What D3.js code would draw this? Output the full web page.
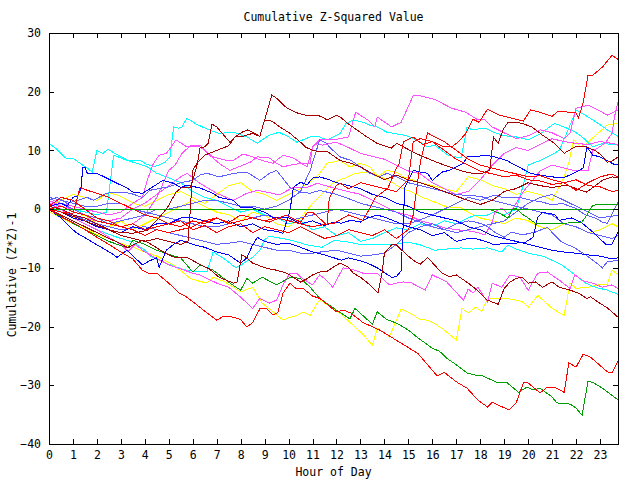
<!DOCTYPE html>
<html><head><meta charset="utf-8">
<script src="https://cdn.jsdelivr.net/npm/d3@7"></script>
<style>
body{margin:0;background:#fff}
svg text{font-family:"DejaVu Sans Mono","Liberation Mono",monospace;font-size:11.5px;fill:#000}
</style>
</head><body>
<svg id="chart" width="640" height="480"></svg>
<script>
const title = "Cumulative Z-Squared Value";
const xLabel = "Hour of Day";
const yLabel = "Cumulative (Z*Z)-1";
const hourTicks = d3.range(0, 24);
const valueTicks = [-40, -30, -20, -10, 0, 10, 20, 30];
const hourDomain = [0, 23.75];
const valueDomain = [-40, 30];

// each series: [hour, cumulative value]
const redTop = [[0,0],[0.5,0.5],[1,-0.5],[1.5,-1],[2,-2],[2.5,-2.5],[3,-3],[3.5,-2.5],[4,-3.5],[4.5,-3],[5,-2.5],[5.5,-3],[6,-2],[6.5,-2.5],[7,-1.5],[7.5,-2.3],[8,-1],[8.5,-1.5],[9,-2],[9.5,-1.5],[10,-2],[10.5,-2.5],[11,-3],[11.5,-2.6],[11.9,-2.4],[12.5,-1],[13.1,-1.9],[13.4,0.2],[13.6,1.9],[14.15,3.6],[14.5,7],[14.6,7.5],[14.8,11.5],[15.2,12.3],[15.6,11],[16,11.5],[16.5,10.6],[16.8,10.6],[17.1,11.5],[17.4,12.9],[17.7,15.3],[17.95,14.8],[18.3,17],[18.8,16],[19.3,15.5],[19.8,15],[20.1,16.9],[20.5,16.5],[21,15.8],[21.25,16.7],[22,16.4],[22.1,15.5],[22.3,18.2],[22.5,22.8],[22.7,22.8],[23.1,24.2],[23.5,26.2],[23.75,25.5]];
const redBottom = [[0,0],[0.5,-1.2],[1,-2.3],[1.5,-3.5],[2,-4.8],[2.5,-6],[3,-7.3],[3.5,-8.5],[3.9,-10.4],[4.2,-11],[4.5,-10.9],[5,-12.6],[5.4,-14.2],[5.76,-15],[6.2,-16.4],[6.6,-17.7],[7,-18.9],[7.3,-18.2],[7.7,-18.4],[8,-18.8],[8.26,-20.1],[8.5,-19.3],[8.8,-17],[9.1,-17],[9.35,-18],[9.55,-17.6],[9.77,-14.3],[10.06,-12.6],[10.3,-13.5],[10.6,-13.5],[11,-14.8],[11.3,-15.2],[12,-17.5],[12.3,-17.2],[12.6,-17.7],[13.1,-19.3],[13.8,-20.6],[14.65,-22.7],[15.4,-24.6],[16.2,-28.4],[16.5,-27.8],[17,-29.4],[17.45,-30.5],[17.9,-32.5],[18.3,-33.7],[18.5,-32.9],[19.2,-34.2],[19.5,-33],[19.8,-29.6],[20,-29.6],[20.5,-31.3],[20.8,-30.3],[21.1,-30.3],[21.5,-31.2],[21.7,-26.2],[22,-26.9],[22.3,-24.7],[22.6,-25.2],[23.3,-27.7],[23.5,-27.9],[23.75,-25.9]];
const redMidA = [[0,0.5],[0.5,2],[1,1.5],[1.5,0],[2,-1.5],[2.5,-2],[3,-3],[3.5,-3.5],[4,-4.5],[4.5,-3.5],[5,-4],[5.5,-3.5],[6,-3],[6.5,-2],[7,-1.5],[7.5,-2.5],[8,-2],[8.5,-1.5],[9,-2],[9.2,-2.2],[9.9,-1],[10.5,-2.2],[10.8,-0.5],[11,-0.5],[11.6,-2.7],[11.7,1.9],[12,4.1],[12.15,4.4],[12.5,3.5],[13,4.5],[13.5,4],[14,3.5],[14.5,3],[15,5],[15.2,11.5],[15.5,12],[16,11.5],[16.5,10],[17,8.5],[17.5,7.5],[18,6.5],[18.5,6],[19,5.5],[19.5,5.8],[20,5],[20.5,4.8],[21,4.2],[21.5,4.5],[22,3.2],[22.5,4.5],[23,5.5],[23.5,6],[23.75,5.5]];
const redMidB = [[0,0],[0.5,-0.5],[1,-0.7],[1.3,3.7],[1.6,3.2],[2,2.7],[2.5,2],[3,1],[3.5,0],[4,-1],[4.5,-1.5],[5,-2.5],[5.5,-2],[6,-3.5],[6.5,-2.8],[7,-4],[7.5,-3],[8,-2.5],[8.5,-4],[9,-3],[9.5,-3.5],[10,-4],[10.5,-3],[11,-4],[11.5,-5],[12,-4.5],[12.5,-3.5],[13,-4],[13.5,-4.5],[14,-3.5],[14.5,-5],[15,-3.5],[15.2,-1],[15.5,8],[15.8,13],[16,12.5],[16.5,11.5],[17,10],[17.5,8.5],[18,7.5],[18.5,7],[19,6.5],[19.5,6],[20,5.5],[20.5,5.7],[21,5],[21.5,4.5],[22,5],[22.5,4],[23,3.8],[23.5,3],[23.75,3.2]];
const darkRedA = [[0,0],[0.5,-0.5],[1,-1.2],[1.5,-2],[2,-2.8],[2.5,-3.5],[3,-4],[3.5,-4.1],[4.1,-3.6],[4.5,-1.9],[4.75,-0.7],[4.95,0.3],[5.3,2.9],[5.55,3.7],[5.9,3.7],[6,4.9],[6.2,7.8],[6.3,10.4],[6.5,10.6],[6.64,11.2],[6.8,14.5],[7,14],[7.55,11.4],[7.76,12.3],[8.05,13.1],[8.3,13.5],[8.6,12.9],[8.8,12.4],[9,15.2],[9.3,19.4],[9.5,18.9],[9.93,17.2],[10.35,16.4],[10.7,16],[11.2,16],[11.4,15.7],[11.6,15.2],[11.85,15.7],[12,16],[12.15,15.7],[12.5,14.5],[13.2,12.5],[13.7,11.2],[14.3,10.4],[14.5,11.2],[14.8,10.6],[15.3,9.5],[16,8.3],[16.5,7.5],[17,6.8],[17.5,6.2],[18,6],[18.4,6.6],[18.55,12.3],[18.75,11.2],[18.95,13.5],[19.16,14.8],[19.45,14.8],[19.75,14.6],[20.15,14],[20.6,12.6],[21.1,11.2],[21.5,9.5],[21.95,10.6],[22.4,10.6],[22.8,10],[23.05,9.2],[23.3,8],[23.5,8.2],[23.75,8.9]];
const darkRedB = [[0,0.5],[0.5,0],[1,-1],[1.5,-1.5],[2,-2.5],[2.5,-3.5],[3,-4.5],[3.5,-5],[4,-5.5],[4.5,-5],[5,-5.5],[5.5,-6],[5.8,-5.5],[5.9,0],[6,6.6],[6.2,8],[6.5,9.2],[7,10],[7.5,10.8],[7.76,12.3],[8,12.3],[8.5,12.9],[8.8,12.4],[9,15.2],[9.3,15],[9.64,14],[10.06,12.9],[10.5,11.4],[10.7,10.6],[11,10],[11.3,9.8],[11.6,9.9],[12,8.7],[12.15,8.3],[12.6,7.8],[13,7.2],[13.5,6],[14,5],[14.5,5.8],[15,5],[15.5,4.5],[16,3.8],[16.5,3],[17,2.2],[17.5,1.5],[18,0.8],[18.5,1.5],[19,3],[19.5,3.5],[20,4.5],[20.5,4],[21,3.7],[21.6,4.1],[22.2,3.2],[22.45,2.9],[22.7,3.7],[23.1,4.9],[23.5,5.5],[23.75,5.3]];
const darkRedLow = [[0,0],[0.5,-1],[1,-2],[1.5,-3],[2,-4],[2.5,-5],[2.8,-5.5],[3.3,-6.6],[3.6,-5.9],[3.9,-5.3],[4.1,-5.6],[4.5,-6.6],[4.9,-7.6],[5.3,-8.3],[5.8,-8.3],[6.2,-9.2],[6.7,-10.2],[7.1,-11.6],[7.7,-12.6],[7.85,-12.4],[8.05,-7.8],[8.26,-8.3],[8.5,-9.2],[9.1,-10.1],[9.5,-10.4],[9.93,-10.9],[10.5,-12.4],[10.8,-11.8],[11,-11.2],[11.3,-10.7],[11.6,-10.6],[11.9,-9.8],[12.15,-9.2],[12.5,-9.9],[12.7,-10.9],[13,-11.6],[13.4,-12.9],[13.73,-14.3],[13.9,-10.9],[14,-7.5],[14.3,-6.1],[14.5,-6.1],[14.86,-7.5],[15.2,-8.7],[15.5,-9.4],[15.8,-8.2],[16.4,-10.9],[16.7,-11.5],[17,-11.2],[17.5,-12.6],[17.9,-13.9],[18.3,-15.5],[18.75,-16.2],[19,-13.5],[19.25,-12.4],[19.5,-11.8],[19.75,-11.6],[20,-12.6],[20.3,-12.4],[20.6,-13.3],[21,-12.4],[21.3,-13.3],[21.75,-13.8],[22.1,-14.3],[22.45,-15.2],[22.6,-14.9],[22.9,-15.8],[23.3,-16.8],[23.75,-18.4]];
const greenLow = [[0,0],[0.5,-1.3],[1,-2.4],[1.5,-3.5],[2,-4.5],[2.5,-5.5],[3,-6.2],[3.3,-6.6],[3.5,-5.3],[4,-6],[4.5,-7],[5,-7.7],[5.5,-8.3],[6,-10.7],[6.3,-9.5],[6.85,-10.4],[7.55,-12.6],[8,-13.8],[8.26,-11.8],[8.5,-12.6],[8.9,-11.6],[9.5,-12.9],[10.06,-11.6],[10.5,-11.8],[10.9,-13.3],[11.3,-15.2],[12,-17.2],[12.56,-18.7],[12.77,-16.9],[13.5,-19.6],[13.7,-17.5],[14.1,-18.8],[14.5,-19.4],[15,-20.6],[15.36,-21.8],[16,-23.7],[16.3,-24.2],[16.6,-25.4],[17,-26.5],[17.45,-27.9],[17.7,-28.2],[18.1,-28.4],[18.7,-29.5],[19.1,-29.5],[19.6,-31.2],[19.95,-30.3],[20.2,-30.8],[20.5,-30.5],[21,-32],[21.2,-33],[21.75,-33.2],[22,-33.9],[22.25,-35.1],[22.5,-29.3],[22.7,-29.5],[23.1,-30.5],[23.75,-32.5]];
const greenFlat = [[0,0],[18.4,0],[18.5,-0.2],[18.8,-0.7],[19.16,-1.5],[19.35,0],[19.5,0.2],[19.7,-0.7],[20,-1.5],[20.3,-2.4],[20.8,-2.4],[21.5,-2.4],[22.25,-2.2],[22.45,-1],[22.66,0.5],[22.9,0.85],[23.75,0.85]];
const blueJump = [[0,0],[0.5,-1.5],[1.1,-3.9],[1.8,-5.6],[2.6,-7.5],[2.84,-8.2],[3.26,-7],[3.9,-9.5],[4.2,-8.8],[4.5,-8.3],[4.6,-9.9],[4.9,-7],[5.2,-6],[5.5,-5.3],[6,-6],[6.5,-6.5],[7,-7.3],[7.5,-7.8],[8,-9.2],[8.26,-8.3],[8.5,-6.1],[8.7,-4.8],[9,-5.5],[9.5,-6],[10,-5.8],[10.5,-6.5],[11,-7.3],[11.5,-7.8],[11.9,-8.3],[12.2,-8.7],[12.5,-8.3],[12.9,-8.7],[13.3,-9.2],[13.7,-10],[14,-10.8],[14.3,-11.6],[14.5,-11.5],[14.7,-10.5],[14.85,3.7],[15,4.9],[15.2,6.6],[15.5,6.3],[15.8,6.1],[16,4.9],[16.4,6.3],[16.7,6.6],[17,7.2],[17.3,7.8],[17.45,8.9],[17.8,8.9],[18.2,9.2],[18.6,8.9],[19.1,8.3],[19.45,7.5],[19.6,7.2],[20.1,6.1],[20.5,5.8],[21,5.5],[21.45,5.3],[21.9,6.1],[22.3,7],[22.45,10.6],[22.7,9.2],[23,8.9],[23.3,8.3],[23.55,7.7],[23.75,7.5]];
const blueEarly = [[0,0.5],[0.5,1],[0.75,0.5],[1,2],[1.2,2.3],[1.35,3.7],[1.4,7],[1.5,7.2],[1.6,6.1],[2,6.1],[2.4,5.3],[2.84,4.4],[3.26,3.6],[3.5,2.9],[3.9,2.7],[4.3,3.7],[4.75,4.9],[5.2,4.4],[5.5,3.7],[5.76,4.1],[6.3,3.6],[6.85,2.7],[7.1,2],[7.7,1.5],[8,0.3],[8.5,0.2],[9.1,-0.7],[9.35,-1.5],[10,-1.5],[10.5,-2.5],[11,-2],[11.5,-2.8],[11.9,-2.2],[12.2,-2.4],[12.6,-1.9],[13,-2.2],[13.3,-1.5],[13.7,-1],[14.1,-1.5],[14.4,-2],[15,-3],[15.5,-3.5],[16,-4.5],[16.5,-4],[17,-5.5],[17.5,-5],[17.8,-5],[18.3,-5.6],[18.6,-6.1],[19,-5.8],[19.45,-5.8],[19.9,-5.6],[20.2,-4.8],[20.4,-1.4],[20.6,-0.5],[20.8,-0.7],[21.1,-0.9],[21.3,-1.9],[21.8,-1.5],[22.2,-2.2],[22.7,-3.9],[22.95,-4.9],[23.25,-6],[23.5,-6],[23.75,-3.9]];
const blueMid = [[0,0],[0.5,-0.5],[1,-1.5],[1.5,-2],[2,-3],[2.5,-3.5],[3,-4],[3.5,-3],[4,-3.5],[4.5,-2.5],[5,-2.5],[5.5,-1.5],[6,-1.5],[6.5,-2],[7,-2.5],[7.5,-2],[8,-3],[8.5,-2.5],[9,-3.5],[9.5,-3.8],[9.77,-4.1],[10.06,-0.2],[10.2,3.7],[10.5,4.6],[10.77,4.1],[11,5.3],[11.3,5.5],[11.7,5],[12,4.5],[12.5,4],[13,3.5],[13.5,2.5],[14,2],[14.5,1],[15,0.5],[15.5,-0.5],[16,-1],[16.5,-1.5],[17,-2],[17.5,-3],[18,-3.5],[18.5,-4.5],[19,-5],[19.5,-5.5],[20,-6],[20.5,-6.5],[21,-7],[21.5,-7.3],[22,-7.5],[22.5,-7.8],[23,-8],[23.5,-8.5],[23.75,-8.3]];
const slateA = [[0,0.5],[0.5,1],[1,0],[1.5,-1],[2,-1.5],[2.5,-2.5],[3,-2],[3.5,-1.5],[4,-1],[4.5,0],[5,0],[5.5,0.5],[6,1],[6.5,1.5],[7,1.5],[7.5,1],[8,0.5],[8.5,0.5],[9,0],[9.5,0.5],[10,1.5],[10.5,3],[10.9,6.6],[11.3,11.8],[11.6,11.2],[11.7,10.6],[12.15,8.9],[12.6,8.3],[13,7.2],[13.4,6.1],[13.8,5.5],[14.1,6.1],[14.5,5.5],[15,4.5],[15.5,4],[16,3.5],[16.5,3],[17,2.5],[17.5,2.3],[18,2.2],[18.5,1.5],[19,1],[19.5,0.5],[20,0],[20.5,-0.5],[21,-1],[21.5,-2.5],[22,-3],[22.5,-4],[23,-4.5],[23.5,-5],[23.75,-4.5]];
const slateB = [[0,1.5],[0.33,2],[0.75,1],[1.2,1.5],[1.6,2],[1.85,1.5],[2.4,2.7],[2.9,2.9],[3.4,2.7],[3.9,2],[4.2,3.2],[4.6,3.5],[5,3.8],[5.5,4.5],[6,4.9],[6.3,5.8],[6.6,6.1],[7.1,5.5],[7.7,6.1],[8.26,6.3],[8.8,4.9],[9.2,6.1],[9.5,6.6],[10.06,3.7],[10.5,2.9],[10.9,2.7],[11.3,3.2],[11.7,2.8],[12,2.5],[12.5,1.8],[13,1],[13.5,0.5],[14,0],[14.5,-0.5],[15,-1.5],[15.5,-2.2],[16,-3],[16.5,-3.5],[17,-4],[17.5,-3.5],[18,-3],[18.5,-2.5],[19,-2],[19.5,-0.5],[20,1],[20.5,2],[21,2.5],[21.5,1.5],[22,0.5],[22.5,-0.5],[23,-1.5],[23.5,-1.2],[23.75,-1]];
const slateC = [[0,0],[0.5,-0.5],[1,-1],[1.5,-1.8],[2,-2.5],[2.5,-3],[3,-3.5],[3.5,-3.2],[4,-3],[4.5,-3.5],[5,-4],[5.5,-4.5],[6,-5],[6.5,-5.5],[7,-6],[7.5,-5.8],[8,-5.5],[8.5,-6],[9,-6.5],[9.5,-7],[10,-7],[10.5,-7.5],[11,-7.5],[11.5,-7.2],[12,-7],[12.5,-7.5],[13,-8],[13.5,-7.8],[14,-7.5],[14.5,-6],[15,-4],[15.5,-3],[16,-2.5],[16.5,-3.5],[17,-2.5],[17.5,-2],[17.8,-2.2],[18.2,-2.7],[18.6,-3.9],[19,-4.8],[19.3,-3.9],[19.75,-4.4],[20.3,-3.9],[20.8,-3.1],[21.1,-4.4],[21.4,-5.6],[21.95,-6.6],[22.4,-7.8],[22.8,-9],[23.1,-10],[23.3,-9],[23.75,-8.7]];
const slateD = [[0,2],[0.5,1.5],[1,1],[1.5,0.5],[2,0.5],[2.5,1],[3,1],[3.5,0],[4,-0.5],[4.5,-1],[5,-1.5],[5.5,-2],[6,-2.5],[6.5,-3],[7,-3],[7.5,-2.5],[8,-2],[8.5,-1.5],[9,-1],[9.5,-1.5],[10,-2],[10.5,-1.5],[11,-1],[11.5,-0.5],[12,0],[12.5,-0.5],[13,-1],[13.5,-1.5],[14,-2],[14.5,-2.5],[15,-2.5],[15.5,-1.8],[16,-1],[16.5,0],[17,1],[17.5,2],[18,1.5],[18.6,2.4],[18.9,2],[19.2,1.9],[19.45,2],[19.75,1.9],[20.15,1.5],[20.6,1.2],[21,0.7],[21.4,1],[21.95,0.2],[22.4,-1],[22.8,-1.5],[23.1,-2.2],[23.3,-2.4],[23.75,1.2]];
const cyanTop = [[0,11.2],[0.3,10.3],[0.7,8.7],[1,8.7],[1.4,7.5],[1.6,7],[1.8,6.3],[2,10],[2.25,9.5],[2.46,10.2],[2.75,9.5],[3,9],[3.3,8.3],[3.8,8.3],[4.1,7.6],[4.4,7.2],[4.85,8],[5.05,8.9],[5.2,14],[5.4,13.8],[5.55,14],[5.76,15.5],[6.1,14.6],[6.4,14],[6.75,13.4],[7.1,12.9],[7.7,13.1],[8.26,12.3],[8.7,11.2],[8.9,11.8],[9.2,12.6],[9.6,13.1],[10,12.3],[10.35,11.4],[10.6,11.8],[10.9,12.3],[11.3,12.3],[11.6,11.8],[12.15,12.9],[12.4,14.6],[12.7,15.2],[13.1,14.8],[13.4,14.3],[13.7,14],[14.1,13.1],[14.4,12.9],[14.8,12.6],[15.07,12.3],[15.5,11.4],[15.8,10.6],[16.1,10.9],[16.65,9.2],[17.2,8.7],[17.45,14],[17.65,13.5],[18.2,13.8],[18.5,13.2],[19,12.5],[19.5,12.3],[20,11.8],[20.5,12.8],[21.1,14.6],[21.8,13.5],[22.2,12.5],[22.7,10.6],[23.1,11.2],[23.75,10.9]];
const cyanLow = [[0,0.5],[0.5,-0.5],[1,-1.5],[1.5,-2.5],[2,-3.5],[2.5,-4.3],[3,-5],[3.5,-5.6],[4,-7],[4.3,-8.2],[4.9,-9.2],[5.3,-9.9],[5.75,-10.4],[6.2,-10.7],[6.6,-10.6],[6.85,-7.3],[7.3,-8.4],[7.8,-10],[8.1,-9.3],[8.5,-8.2],[8.8,-7],[9,-5.2],[9.2,-4.6],[9.6,-4.9],[10.1,-5.3],[10.8,-6.1],[11.4,-6.5],[11.9,-5.3],[12.5,-5.6],[13.1,-6.1],[13.6,-6.1],[14.15,-6.1],[14.6,-5.9],[15,-5.6],[15.5,-6.1],[16.1,-7],[16.6,-6.8],[17.2,-6.6],[17.7,-6.8],[18.3,-6.6],[18.9,-7.3],[19.16,-6.1],[19.5,-6.8],[20,-7.5],[20.6,-8],[21,-8.7],[21.4,-9.5],[21.8,-10.7],[22.4,-12.6],[22.8,-13.3],[23.3,-13.8],[23.75,-14.5]];
const cyanMid = [[0,1],[0.5,0.5],[1,0],[1.5,-0.5],[2,-1],[2.4,-0.5],[2.7,9.2],[3.26,8.3],[3.67,7.8],[4.1,7.2],[4.5,6.1],[4.9,5.5],[5.5,4.5],[6,3],[6.5,2],[7,1.5],[7.5,0.5],[8,-0.5],[8.5,0],[9,-1],[9.5,-1.5],[10,-2.5],[10.5,-2],[11,-3.5],[11.5,-3],[12,-4.5],[12.5,-4],[13,-5.5],[13.5,-5],[14,-4],[14.5,-3.2],[15,-3.5],[15.5,-2.5],[16,-3],[16.5,-2],[17,-2.5],[17.5,-1.5],[17.8,-1],[18.3,-1],[18.6,-0.5],[19,-1],[19.5,0],[19.8,4.1],[20,7.5],[20.5,8.3],[21,9.3],[21.3,10],[21.75,14.3],[22,16.9],[22.5,15.7],[23,14.4],[23.3,13.5],[23.75,12.4]];
const pinkTop = [[0,1.8],[0.5,1],[1,0.5],[1.5,0],[2,-0.5],[2.5,-1],[3,-0.5],[3.5,1],[3.9,2],[4.1,4.9],[4.35,7.7],[4.6,9.2],[4.9,9.5],[5.1,10.6],[5.3,11.8],[5.76,10.6],[6.3,10.6],[6.85,8.9],[7.4,8.3],[7.7,8.3],[8.1,9.4],[8.5,8.9],[8.9,8.3],[9.35,7.8],[9.77,9.2],[10.2,8.7],[10.77,7.2],[11,10.6],[11.3,11.8],[11.9,11.8],[12.5,12.3],[12.8,16.5],[13.3,15.2],[13.6,14],[13.7,15.7],[14.3,14],[14.7,14.8],[15.2,19.3],[15.5,19.3],[16.1,18.7],[16.8,17.2],[17.4,16.5],[17.9,15.2],[18.2,15.2],[18.5,14],[19,13],[19.5,12],[20,12.5],[20.5,13.5],[21,13],[21.5,12],[21.75,13],[22,17.2],[22.5,17.7],[23.1,16.5],[23.3,16],[23.75,16.9]];
const pinkRise = [[0,1.5],[0.5,0.5],[1,0],[1.5,-1],[2,-1.5],[2.5,-2],[3,-1.5],[3.5,0],[4,1],[4.5,2.5],[5,4],[5.5,5.5],[5.76,6.1],[6.3,4.4],[7,2.7],[7.7,1.5],[8.26,2.7],[8.7,3.2],[9.1,2.9],[9.6,2.4],[10.2,3.7],[10.77,3.7],[11.2,4.4],[11.9,3.6],[12.5,3],[13,2.5],[13.5,1.5],[14,0.5],[14.5,-0.5],[15,-1],[15.5,-2],[16,-2.5],[16.5,-3.2],[17,-3.5],[17.5,-3.7],[17.8,-3.9],[18.2,-4.4],[18.5,-2.2],[18.6,-0.5],[18.9,0.2],[19.2,-1],[19.5,1],[19.8,3],[20.2,5],[20.5,6.5],[21,7.5],[21.5,7],[22,6.5],[22.5,6.6],[22.7,10],[22.9,10.4],[23.2,11.2],[23.5,12.9],[23.6,15.7],[23.75,18.2]];
const pinkMid = [[0,0.5],[0.5,0],[1,-1],[1.5,-1.5],[2,-2],[2.5,-2.5],[3,-3],[3.5,-2.5],[4,-1],[4.5,2],[5,6.6],[5.26,7.5],[5.55,9.5],[5.9,10.8],[6.3,10.9],[6.7,9.2],[7.1,7.8],[7.55,6.6],[8.1,7.5],[8.4,8],[8.7,8.9],[9.2,8.7],[9.5,7.8],[9.77,7.2],[10.06,7.5],[10.5,7.8],[10.9,7.8],[11,10.6],[11.2,11.2],[11.4,10.9],[11.7,11.2],[12,11.4],[12.5,10.5],[13,9.5],[13.5,9],[14,8.5],[14.5,7.5],[15,6.5],[15.5,6],[16,4.5],[16.5,3.5],[17,2.5],[17.5,3],[18,5],[18.5,7.5],[19,9.5],[19.5,10.5],[20,10],[20.5,11],[21,12],[21.5,11.5],[22,11.2],[22.5,11],[23,11.5],[23.5,11.2],[23.75,11]];
const pinkLow = [[0,1],[0.5,0],[1,-1.5],[1.5,-2.5],[2,-3.5],[2.5,-4.8],[3,-6],[3.3,-7.2],[3.6,-6],[4,-7.3],[4.5,-8.4],[5,-9.5],[5.5,-10.2],[6,-10.9],[6.3,-11.2],[7,-12.6],[7.5,-13.3],[8,-15],[8.5,-16.9],[8.8,-15.2],[9.2,-16],[9.5,-15.5],[9.77,-12.9],[10.06,-10.9],[10.35,-10.9],[10.5,-11.6],[11,-12.9],[11.3,-11.2],[11.5,-11.8],[11.85,-13.3],[12.27,-10],[12.7,-10.3],[13.1,-10.9],[13.7,-10.9],[14.2,-12.9],[14.5,-12.6],[14.8,-12.4],[15.1,-12.5],[15.7,-13.8],[16,-11.2],[16.6,-12.4],[17.3,-15.5],[17.5,-13.6],[17.7,-14.3],[17.9,-13.3],[18.3,-15.8],[18.5,-12.6],[18.9,-13.3],[19.24,-11.2],[19.66,-11.6],[20,-13.8],[20.4,-10.9],[20.8,-10.7],[21.3,-12.1],[21.75,-13.5],[21.95,-11.2],[22.3,-12.2],[22.7,-12.6],[23.1,-13.3],[23.5,-12.9],[23.75,-13.5]];
const yellowLow = [[0,-0.5],[0.5,-1.5],[1,-2.5],[1.5,-3.2],[2,-4.3],[2.5,-5],[3,-5.8],[3.5,-6.5],[4,-7.3],[4.5,-8],[5.2,-9.5],[5.9,-11.8],[6.2,-12.2],[6.6,-12.6],[6.85,-11.6],[7.3,-12.3],[7.7,-13.3],[8,-14.1],[8.5,-13.3],[8.9,-16],[9.35,-17.5],[9.77,-18.9],[10.06,-18.4],[10.35,-18.1],[10.6,-17.5],[10.9,-18.1],[11.2,-16],[11.3,-15.5],[12,-17.2],[12.7,-19.8],[13.1,-21.3],[13.5,-23.2],[13.7,-20.3],[14,-21],[14.2,-21.8],[14.7,-17],[15.07,-17.7],[15.5,-18.8],[15.8,-18.9],[16.1,-19.5],[16.5,-20.6],[17,-22.3],[17.24,-16.9],[17.5,-17.7],[17.8,-16.7],[18.07,-17.4],[18.3,-15.2],[18.9,-15.2],[19.24,-15.3],[19.74,-15.7],[20,-16.7],[20.4,-14.7],[21,-16.9],[21.5,-18.1],[21.75,-12.6],[22,-13.5],[22.5,-13.3],[22.9,-12.9],[23.3,-12.8],[23.5,-10.4],[23.75,-11.1]];
const yellowTop = [[0,0.5],[0.5,1.5],[1,2.5],[1.5,2],[2,1.5],[2.5,2.8],[3,2.2],[3.5,1],[4,0.5],[4.5,1.5],[5,2.5],[5.5,3],[6,2],[6.5,1],[7,2.5],[7.5,4],[8,4.5],[8.5,3],[9,2.5],[9.5,1.5],[10,2.5],[10.5,3.5],[11,5],[11.3,6.1],[11.6,7.8],[12.15,8.3],[12.56,7.2],[13,7.8],[13.4,7.2],[13.7,5.5],[14.1,6.6],[14.5,6.3],[14.8,5.5],[15.5,4.5],[16,4],[16.5,3.5],[17,3],[17.5,5.5],[18,5],[18.5,4],[19,3.5],[19.5,2.5],[20,3],[20.5,2.5],[21,1.5],[21.5,5.5],[21.7,8],[21.9,11.8],[22.2,10.6],[22.45,11.2],[22.9,12.9],[23.3,14.3],[23.75,14.6]];
const yellowMid = [[0,0],[0.5,-0.5],[1,-1.5],[1.5,-1],[2,-2.5],[2.5,-3],[3,-2],[3.5,-3.5],[4,-2.5],[4.5,-1.5],[5,-0.5],[5.5,0.5],[6,1.5],[6.5,0.5],[7,-0.5],[7.5,-1],[8,-2],[8.5,-0.5],[9,-1],[9.5,-2.5],[10,-3],[10.5,-1.5],[11,1],[11.5,3],[11.9,4.6],[12.35,5.3],[12.8,6.1],[13.3,6.3],[13.7,5.8],[14.3,4.6],[14.7,3.6],[15.15,2.9],[15.6,2],[16.1,1.2],[16.65,0.3],[17.2,0.2],[17.5,-0.5],[18,-1.5],[18.5,-2],[19,-2.5],[19.5,-1.5],[20,-2],[20.5,-3],[21,-3.5],[21.5,-2.5],[22,-3],[22.5,-4],[23,-3.5],[23.5,-2.5],[23.75,-3]];

const palette = {
  red: "#ff0000", darkred: "#a80000", green: "#00a000", blue: "#0000ff",
  slate: "#6060ff", cyan: "#00ffff", pink: "#ff50ff", yellow: "#ffff00"
};
const seriesList = [
  {data: yellowLow, color: "yellow"}, {data: yellowTop, color: "yellow"}, {data: yellowMid, color: "yellow"},
  {data: cyanTop, color: "cyan"}, {data: cyanLow, color: "cyan"}, {data: cyanMid, color: "cyan"},
  {data: pinkTop, color: "pink"}, {data: pinkRise, color: "pink"}, {data: pinkMid, color: "pink"}, {data: pinkLow, color: "pink"},
  {data: slateA, color: "slate"}, {data: slateB, color: "slate"}, {data: slateC, color: "slate"}, {data: slateD, color: "slate"},
  {data: blueJump, color: "blue"}, {data: blueEarly, color: "blue"}, {data: blueMid, color: "blue"},
  {data: greenLow, color: "green"}, {data: greenFlat, color: "green"},
  {data: darkRedA, color: "darkred"}, {data: darkRedB, color: "darkred"}, {data: darkRedLow, color: "darkred"},
  {data: redTop, color: "red"}, {data: redBottom, color: "red"}, {data: redMidA, color: "red"}, {data: redMidB, color: "red"}
];

const svg = d3.select("#chart");
const x = d3.scaleLinear().domain(hourDomain).range([49, 618]);
const y = d3.scaleLinear().domain(valueDomain).range([444, 33]);
const line = d3.line().x(d => x(d[0])).y(d => y(d[1]));

svg.append("g").selectAll("path").data(seriesList).join("path")
  .attr("d", d => line(d.data))
  .attr("fill", "none")
  .attr("stroke", d => palette[d.color])
  .attr("stroke-width", 1)
  .attr("shape-rendering", "crispEdges");

// zero reference line
svg.append("line")
  .attr("x1", x(hourDomain[0])).attr("x2", x(hourDomain[1]))
  .attr("y1", Math.round(y(0)) + 0.5).attr("y2", Math.round(y(0)) + 0.5)
  .attr("stroke", palette.green).attr("shape-rendering", "crispEdges");

function styleAxis(g) {
  g.selectAll("path,line").attr("stroke", "#000").attr("shape-rendering", "crispEdges");
  g.attr("font-family", null).attr("font-size", null);
  g.selectAll("text").attr("fill", "#000");
}
svg.append("g").attr("transform", "translate(0,444)")
  .call(d3.axisBottom(x).tickValues(hourTicks).tickFormat(d3.format("d")).tickSizeInner(-5).tickSizeOuter(0).tickPadding(7))
  .call(styleAxis);
svg.append("g").attr("transform", "translate(0,33)")
  .call(d3.axisTop(x).tickValues(hourTicks).tickFormat("").tickSizeInner(-5).tickSizeOuter(0))
  .call(styleAxis);
svg.append("g").attr("transform", "translate(49,0)")
  .call(d3.axisLeft(y).tickValues(valueTicks).tickFormat(d3.format("d")).tickSizeInner(-5).tickSizeOuter(0).tickPadding(8))
  .call(styleAxis);
svg.append("g").attr("transform", "translate(618,0)")
  .call(d3.axisRight(y).tickValues(valueTicks).tickFormat("").tickSizeInner(-5).tickSizeOuter(0))
  .call(styleAxis);

svg.append("text").attr("x", 333.5).attr("y", 21).attr("text-anchor", "middle").text(title);
svg.append("text").attr("x", 333.5).attr("y", 476).attr("text-anchor", "middle").text(xLabel);
svg.append("text").attr("transform", "translate(15.5,275) rotate(-90)").attr("text-anchor", "middle").text(yLabel);
</script>
</body></html>
